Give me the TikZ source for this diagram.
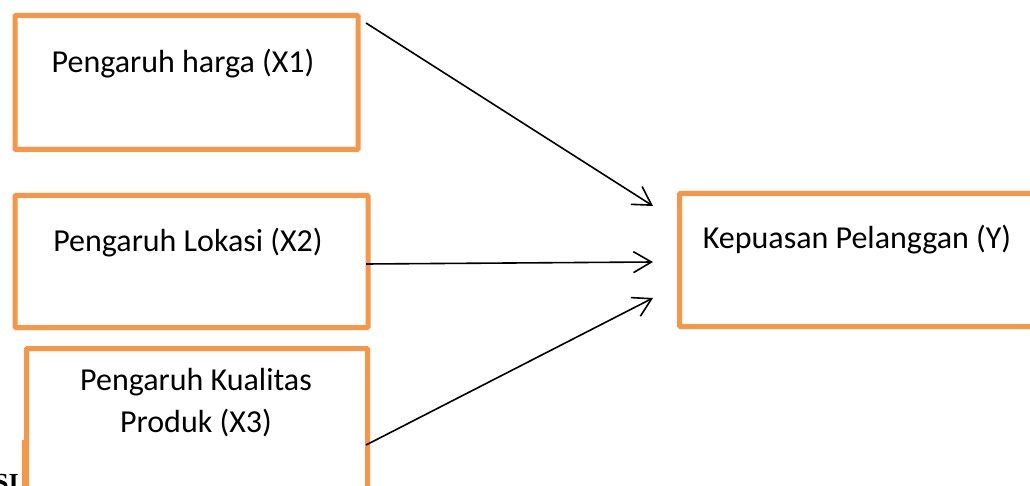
\documentclass[tikz,border=0pt]{standalone}
\usepackage{fontspec}
\setmainfont{Carlito}
\newfontfamily\serifbold{Liberation Serif}
\usetikzlibrary{arrows.meta}
\definecolor{boxorange}{HTML}{F79646}
\begin{document}
\begin{tikzpicture}[x=1pt,y=-1pt,
  box/.style={draw=boxorange,line width=5pt,rounded corners=1pt,anchor=north west,inner sep=0pt},
  lbl/.style={font=\fontsize{32}{42}\selectfont,align=center,inner sep=0pt},
  conn/.style={line width=1.6pt,-{Straight Barb[length=18pt,width=21pt,line width=1.6pt]}}]
\clip (0,0) rectangle (1030,486);
\useasboundingbox (0,0) rectangle (1030,486);
\fill[white] (0,0) rectangle (1030,486);
% boxes
\node[box,minimum width=343pt,minimum height=134pt] (b1) at (12.5,13) {};
\node[box,minimum width=353pt,minimum height=132pt] (b2) at (12.5,193) {};
\node[box,minimum width=341pt,minimum height=180pt] (b3) at (24,346) {};
\node[box,minimum width=380pt,minimum height=133pt] (by) at (677,191) {};
% labels
\node[lbl] (t1) at (183,64) {Pengaruh harga (X1)};
\node[lbl] (t2) at (188,243) {Pengaruh Lokasi (X2)};
\node[lbl] (t3) at (196,403) {Pengaruh Kualitas\\Produk (X3)};
\node[lbl] (ty) at (857,240) {Kepuasan Pelanggan (Y)};
% stray text fragment
\node[font=\serifbold\bfseries\fontsize{26}{30}\selectfont,anchor=north west,inner sep=0pt] (frag) at (-6,474) {SI};
\fill[white] (21,460) rectangle (27,486);
\draw[boxorange,line width=5pt] (24,440) -- (24,490);
% connector ends
\coordinate (s1) at (366,23);
\coordinate (s2) at (366,264);
\coordinate (s3) at (366,445);
\coordinate (e1) at (653,206);
\coordinate (e2) at (653,262);
\coordinate (e3) at (653,298);
\draw[conn] (s1) -- (e1);
\draw[conn] (s2) -- (e2);
\draw[conn] (s3) -- (e3);
\end{tikzpicture}
\end{document}
